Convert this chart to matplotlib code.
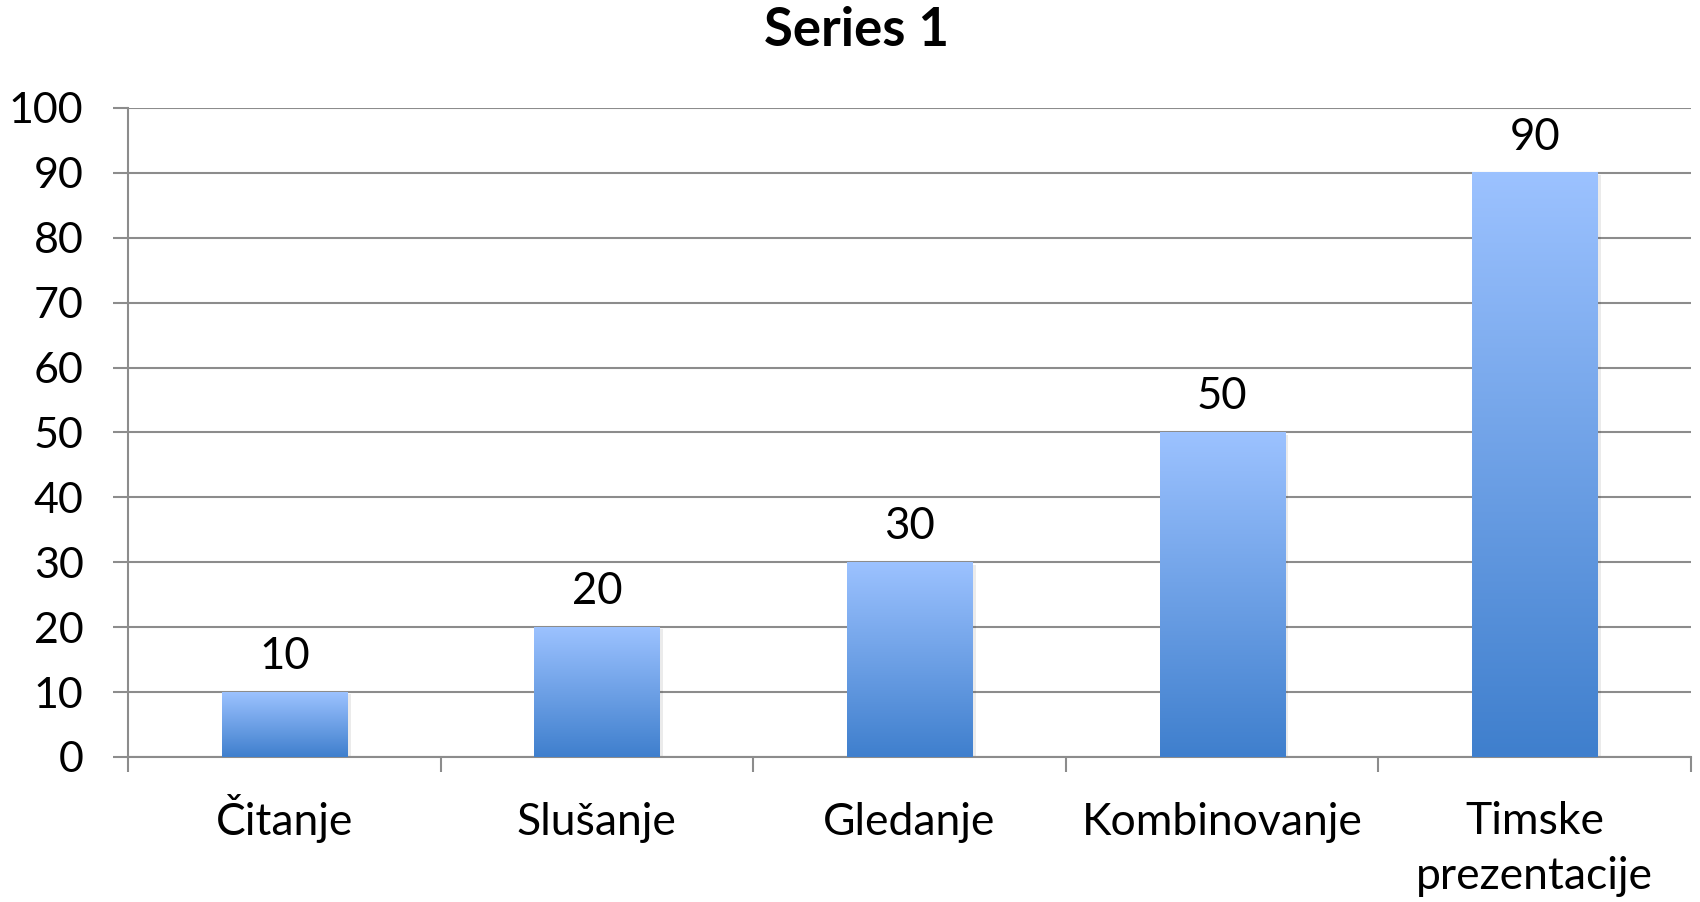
import numpy as np
import matplotlib
matplotlib.use("Agg")
import matplotlib.pyplot as plt
from matplotlib.colors import LinearSegmentedColormap

plt.rcParams['font.family'] = ['Lato', 'DejaVu Sans']

categories = ['Čitanje', 'Slušanje', 'Gledanje', 'Kombinovanje', 'Timske\nprezentacije']
values = [10, 20, 30, 50, 90]
yticks = [0, 10, 20, 30, 40, 50, 60, 70, 80, 90, 100]

fig = plt.figure(figsize=(17, 9.02), dpi=100)
ax = fig.add_axes([0.0753, 0.1608, 0.9194, 0.7195])

cmap = LinearSegmentedColormap.from_list('bar', ['#3f7fcd', '#9cc2ff'])
grad = np.linspace(0, 1, 256).reshape(-1, 1)
width = 0.40
x = np.arange(len(categories))

for xi, v in zip(x, values):
    # faint shadow to the right/below
    ax.bar(xi + 0.012, v, width=width, bottom=-0.35, color='#000000', alpha=0.08, zorder=2)
    ax.imshow(grad, cmap=cmap, origin='lower', aspect='auto',
              extent=(xi - width / 2, xi + width / 2, 0, v), zorder=3)
    ax.annotate(str(v), (xi, v), xytext=(0, 11), textcoords='offset points',
                ha='center', va='bottom', fontsize=31.5, color='black')

ax.set_xlim(-0.5, len(categories) - 0.5)
ax.set_ylim(0, 100)
ax.set_yticks(yticks)
ax.set_yticklabels([str(t) for t in yticks])
ax.set_xticks(x)
ax.set_xticklabels(categories, linespacing=1.42, va='baseline')
ax.set_xticks(np.arange(len(categories) + 1) - 0.5, minor=True)

# baseline alignment uses the last line; push two-line labels down so the first lines match
for lab in ax.get_xticklabels():
    if '\n' in lab.get_text():
        lab.set_y(-54 / (0.7195 * 902))

ax.yaxis.grid(True, color='#8c8c8c', linewidth=1.5, zorder=1)
ax.set_axisbelow(True)
for s in ['top', 'right']:
    ax.spines[s].set_visible(False)
ax.spines['left'].set_color('#8c8c8c')
ax.spines['bottom'].set_color('#8c8c8c')
ax.spines['left'].set_linewidth(1.5)
ax.spines['bottom'].set_linewidth(1.5)

ax.tick_params(axis='y', length=11, width=1.5, color='#8c8c8c', labelsize=31, pad=21)
ax.tick_params(axis='x', which='major', length=0, labelsize=32, pad=56)
ax.tick_params(axis='x', which='minor', length=11, width=1.5, color='#8c8c8c')

fig.text(0.504, 0.9667, 'Series 1', ha='center', va='center', fontsize=38, fontweight='bold')

fig.savefig('out.png', dpi=100)
